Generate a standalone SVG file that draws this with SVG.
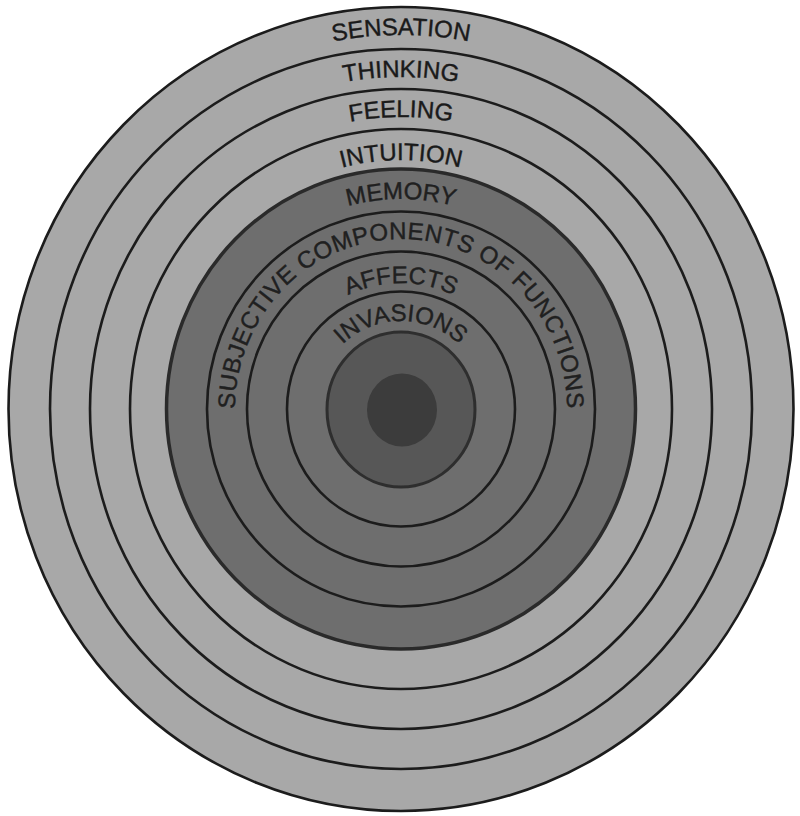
<svg xmlns="http://www.w3.org/2000/svg" width="800" height="816" viewBox="0 0 800 816">
  <style>
    .ring { fill: none; stroke: #1c1c1c; stroke-width: 2.6; }
    .lbl { font-family: "Liberation Sans", Arial, sans-serif; font-size: 24px; fill: #1a1a1a; stroke: #1a1a1a; stroke-width: 0.4; }
    .in { fill: #202020; stroke: #202020; }
  </style>
  <defs>
    <path id="pSens" d="M 36 409 A 365 374 0 0 1 766 409"/>
    <path id="pThink" d="M 77 409 A 324 332 0 0 1 725 409"/>
    <path id="pFeel" d="M 117 409 A 284 292 0 0 1 685 409"/>
    <path id="pInt" d="M 159 409 A 242 249 0 0 1 643 409"/>
    <path id="pMem" d="M 196 409 A 205 210 0 0 1 606 409"/>
    <path id="pScf" d="M 235 409 A 166 170 0 0 1 567 409"/>
    <path id="pAff" d="M 278 409 A 123 126 0 0 1 524 409"/>
    <path id="pInv" d="M 315 409 A 86 88 0 0 1 487 409"/>
  </defs>
  <rect width="800" height="816" fill="#ffffff"/>

  <g id="sensation">
    <ellipse cx="401" cy="409" rx="392.5" ry="402" fill="#a8a8a8" stroke="#1c1c1c" stroke-width="2.6"/>
    <text class="lbl"><textPath href="#pSens" startOffset="50%" text-anchor="middle">SENSATION</textPath></text>
  </g>
  <g id="thinking">
    <ellipse class="ring" cx="401" cy="409" rx="351" ry="360"/>
    <text class="lbl"><textPath href="#pThink" startOffset="50%" text-anchor="middle">THINKING</textPath></text>
  </g>
  <g id="feeling">
    <ellipse class="ring" cx="401" cy="409" rx="311" ry="320"/>
    <text class="lbl"><textPath href="#pFeel" startOffset="50%" text-anchor="middle">FEELING</textPath></text>
  </g>
  <g id="intuition">
    <ellipse class="ring" cx="401" cy="409" rx="271" ry="280"/>
    <text class="lbl"><textPath href="#pInt" startOffset="50%" text-anchor="middle">INTUITION</textPath></text>
  </g>
  <g id="memory">
    <ellipse cx="401" cy="409" rx="234.5" ry="240" fill="#6e6e6e" stroke="#2a2a2a" stroke-width="3.5"/>
    <text class="lbl in"><textPath href="#pMem" startOffset="50%" text-anchor="middle">MEMORY</textPath></text>
  </g>
  <g id="subjective-components">
    <ellipse class="ring" cx="401" cy="409" rx="194" ry="197.5" stroke="#262626"/>
    <text class="lbl in" letter-spacing="0.4"><textPath href="#pScf" startOffset="50%" text-anchor="middle">SUBJECTIVE COMPONENTS OF FUNCTIONS</textPath></text>
  </g>
  <g id="affects">
    <ellipse class="ring" cx="401" cy="409" rx="154" ry="157.5" stroke="#262626"/>
    <text class="lbl in"><textPath href="#pAff" startOffset="50%" text-anchor="middle">AFFECTS</textPath></text>
  </g>
  <g id="invasions">
    <ellipse class="ring" cx="401" cy="409" rx="114" ry="117.5" stroke="#262626"/>
    <text class="lbl in" font-size="23"><textPath href="#pInv" startOffset="50%" text-anchor="middle">INVASIONS</textPath></text>
  </g>
  <g id="inner-core">
    <ellipse cx="401" cy="409.5" rx="74" ry="77.5" fill="#575757" stroke="#2e2e2e" stroke-width="3"/>
  </g>
  <g id="center">
    <ellipse cx="402" cy="410" rx="35" ry="36.5" fill="#3c3c3c"/>
  </g>
</svg>
